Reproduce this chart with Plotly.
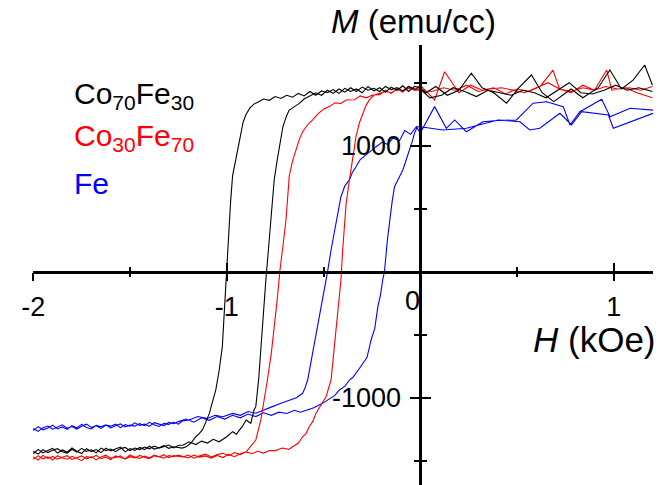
import plotly.graph_objects as go

# ---------------- data (H in kOe, M in emu/cc) ----------------
flat_H = [-2.000, -1.975, -1.950, -1.925, -1.900, -1.875, -1.850, -1.825, -1.800, -1.775,
          -1.750, -1.725, -1.700, -1.675, -1.650, -1.625, -1.600, -1.575, -1.550, -1.525,
          -1.500, -1.475, -1.450, -1.425, -1.400, -1.375, -1.350, -1.325, -1.300, -1.275, -1.250]

# Co70Fe30
co70_desc_pos_H = [1.20, 1.16, 1.10, 1.04, 0.98, 0.92, 0.84, 0.78, 0.69, 0.63, 0.575, 0.51, 0.446, 0.38,
                   0.32, 0.264, 0.20, 0.14, 0.08, 0.03, 0.0]
co70_desc_pos_M = [1480, 1640, 1520, 1450, 1600, 1460, 1380, 1450, 1350, 1420, 1561, 1460, 1337, 1420,
                   1460, 1575, 1440, 1400, 1470, 1420, 1460]
co70_desc_neg_H = [-0.03, -0.06, -0.09, -0.12, -0.15, -0.18, -0.21, -0.24, -0.27, -0.30, -0.33, -0.36,
                   -0.39, -0.42, -0.45, -0.48, -0.51, -0.54, -0.57, -0.60, -0.63, -0.66, -0.69, -0.72,
                   -0.75, -0.78, -0.81, -0.84, -0.86, -0.88, -0.90, -0.915, -0.93, -0.945, -0.96, -0.97,
                   -0.98, -0.99, -1.00, -1.01, -1.023, -1.04, -1.057, -1.075, -1.09, -1.11, -1.126,
                   -1.145, -1.16, -1.185, -1.21, -1.23]
co70_desc_neg_M = [1470, 1430, 1475, 1440, 1465, 1425, 1460, 1435, 1470, 1420, 1450, 1430, 1455, 1415,
                   1445, 1420, 1435, 1400, 1430, 1395, 1415, 1385, 1400, 1375, 1390, 1360, 1370, 1345,
                   1330, 1300, 1250, 1190, 1080, 950, 840, 760, 560, 300, 20, -250, -595, -790, -940,
                   -1040, -1125, -1200, -1256, -1290, -1310, -1360, -1390, -1400]
co70_desc_flat_M = [-1445, -1410, -1438, -1420, -1402, -1440, -1415, -1432, -1398, -1425, -1443, -1405,
                    -1428, -1412, -1436, -1400, -1422, -1410, -1392, -1430, -1404, -1418, -1395, -1412,
                    -1385, -1408, -1398, -1380, -1402, -1390, -1398]
co70_asc_flat_M = [-1425, -1448, -1412, -1436, -1418, -1405, -1430, -1440, -1410, -1432, -1402, -1426,
                   -1414, -1438, -1400, -1420, -1408, -1428, -1404, -1395, -1420, -1400, -1412, -1392,
                   -1406, -1384, -1400, -1390, -1376, -1398, -1380]
co70_asc_neg_H = [-1.225, -1.195, -1.16, -1.13, -1.10, -1.07, -1.04, -1.02, -1.00, -0.97, -0.95, -0.936,
                  -0.92, -0.90, -0.876, -0.859, -0.85, -0.835, -0.824, -0.81, -0.798, -0.785, -0.772,
                  -0.755, -0.74, -0.729, -0.71, -0.69, -0.677, -0.65, -0.625, -0.60, -0.574, -0.54,
                  -0.51, -0.48, -0.45, -0.42, -0.39, -0.36, -0.33, -0.30, -0.27, -0.24, -0.21, -0.18,
                  -0.15, -0.12, -0.09, -0.06, -0.03]
co70_asc_neg_M = [-1375, -1350, -1372, -1345, -1360, -1330, -1350, -1330, -1310, -1270, -1290, -1260,
                  -1230, -1177, -1203, -1098, -1071, -850, -595, -330, -66, 170, 410, 728, 880, 992,
                  1150, 1240, 1283, 1310, 1336, 1370, 1389, 1420, 1400, 1440, 1415, 1450, 1425, 1460,
                  1430, 1465, 1440, 1455, 1430, 1470, 1445, 1460, 1435, 1470, 1450]
co70_asc_pos_H = [0.0, 0.05, 0.11, 0.17, 0.23, 0.29, 0.35, 0.41, 0.47, 0.53, 0.59, 0.65, 0.71, 0.77,
                  0.83, 0.89, 0.95, 1.01, 1.07, 1.13, 1.20]
co70_asc_pos_M = [1450, 1380, 1400, 1460, 1430, 1390, 1440, 1420, 1400, 1440, 1420, 1380, 1440, 1500,
                  1420, 1410, 1440, 1480, 1440, 1460, 1430]

# Co30Fe70
co30_desc_pos_H = [1.20, 1.12, 1.06, 0.99, 0.964, 0.90, 0.84, 0.78, 0.72, 0.686, 0.62, 0.56, 0.50, 0.44,
                   0.38, 0.32, 0.26, 0.20, 0.126, 0.074, 0.0]
co30_desc_pos_M = [1380, 1420, 1460, 1440, 1600, 1440, 1480, 1420, 1450, 1600, 1470, 1430, 1450, 1410,
                   1460, 1440, 1480, 1420, 1587, 1363, 1480]
co30_desc_neg_H = [-0.03, -0.06, -0.09, -0.12, -0.15, -0.18, -0.21, -0.246, -0.28, -0.31, -0.34, -0.383,
                   -0.41, -0.44, -0.47, -0.50, -0.53, -0.556, -0.58, -0.608, -0.625, -0.642, -0.66,
                   -0.677, -0.694, -0.71, -0.725, -0.74, -0.755, -0.77, -0.79, -0.81, -0.824, -0.85,
                   -0.876, -0.90, -0.93, -0.96, -0.99, -1.02, -1.05, -1.08, -1.11, -1.14, -1.17, -1.20,
                   -1.23]
co30_desc_neg_M = [1440, 1470, 1425, 1450, 1415, 1440, 1405, 1402, 1380, 1395, 1365, 1363, 1335, 1340,
                   1310, 1290, 1250, 1204, 1170, 1111, 1050, 966, 880, 760, 410, 200, 13, -230, -463,
                   -650, -860, -1050, -1177, -1336, -1389, -1430, -1445, -1468, -1450, -1475, -1458,
                   -1480, -1462, -1472, -1455, -1478, -1465]
co30_desc_flat_M = [-1490, -1462, -1485, -1470, -1495, -1460, -1478, -1488, -1465, -1480, -1500, -1468,
                    -1476, -1458, -1484, -1470, -1492, -1462, -1475, -1486, -1455, -1472, -1482, -1464,
                    -1478, -1456, -1470, -1480, -1460, -1468, -1455]
co30_asc_flat_M = [-1470, -1495, -1458, -1482, -1466, -1488, -1472, -1460, -1490, -1476, -1462, -1485,
                   -1468, -1494, -1470, -1456, -1480, -1474, -1462, -1488, -1468, -1478, -1458, -1472,
                   -1484, -1462, -1470, -1452, -1476, -1460, -1466]
co30_asc_neg_H = [-1.225, -1.20, -1.17, -1.14, -1.11, -1.08, -1.05, -1.02, -0.99, -0.96, -0.93, -0.90,
                  -0.87, -0.84, -0.81, -0.78, -0.75, -0.712, -0.68, -0.66, -0.63, -0.608, -0.59, -0.574,
                  -0.556, -0.539, -0.51, -0.487, -0.461, -0.45, -0.435, -0.42, -0.41, -0.401, -0.383,
                  -0.366, -0.35, -0.332, -0.315, -0.297, -0.28, -0.263, -0.24, -0.211, -0.18, -0.15,
                  -0.12, -0.09, -0.06, -0.03]
co30_asc_neg_M = [-1470, -1455, -1480, -1462, -1448, -1470, -1452, -1441, -1460, -1435, -1452, -1430,
                  -1445, -1425, -1440, -1420, -1420, -1400, -1410, -1390, -1360, -1310, -1283, -1230,
                  -1190, -1124, -1050, -992, -860, -700, -463, -250, -66, 172, 542, 728, 900, 1071,
                  1180, 1257, 1320, 1363, 1400, 1416, 1430, 1420, 1445, 1430, 1455, 1440]
co30_asc_pos_H = [0.0, 0.06, 0.12, 0.18, 0.24, 0.30, 0.36, 0.42, 0.48, 0.54, 0.60, 0.66, 0.72, 0.78,
                  0.84, 0.90, 0.96, 1.02, 1.08, 1.14, 1.20]
co30_asc_pos_M = [1440, 1430, 1460, 1440, 1480, 1430, 1450, 1460, 1440, 1420, 1460, 1500, 1450, 1430,
                  1460, 1440, 1470, 1450, 1460, 1440, 1470]

# Fe
fe_desc_pos_H = [1.203, 1.085, 0.981, 0.938, 0.825, 0.774, 0.739, 0.653, 0.583, 0.497, 0.40, 0.324,
                 0.238, 0.178, 0.135, 0.074, 0.0]
fe_desc_pos_M = [1282, 1297, 1230, 1368, 1270, 1164, 1310, 1349, 1337, 1204, 1200, 1190, 1111, 1204,
                 1138, 1310, 1100]
fe_desc_neg_H = [-0.02, -0.05, -0.08, -0.107, -0.14, -0.17, -0.194, -0.23, -0.26, -0.28, -0.31, -0.332,
                 -0.35, -0.366, -0.39, -0.41, -0.427, -0.444, -0.461, -0.479, -0.487, -0.505, -0.522,
                 -0.535, -0.548, -0.565, -0.582, -0.595, -0.608, -0.64, -0.677, -0.72, -0.764, -0.81,
                 -0.85, -0.89, -0.93, -0.97, -1.02, -1.06, -1.10, -1.15, -1.195, -1.23]
fe_desc_neg_M = [1150, 1090, 1120, 1040, 1060, 1010, 1030, 990, 950, 930, 890, 833, 790, 728, 680, 595,
                 463, 305, 172, 0, -66, -230, -383, -480, -595, -730, -860, -920, -965, -1000, -1018,
                 -1045, -1071, -1100, -1124, -1110, -1140, -1125, -1151, -1140, -1165, -1150, -1177,
                 -1185]
fe_desc_flat_M = [-1262, -1230, -1255, -1240, -1218, -1248, -1232, -1252, -1222, -1240, -1212, -1236,
                  -1248, -1220, -1230, -1215, -1240, -1222, -1208, -1232, -1218, -1226, -1205, -1222,
                  -1196, -1215, -1228, -1204, -1212, -1195, -1210]
fe_asc_flat_M = [-1245, -1268, -1238, -1225, -1250, -1234, -1215, -1242, -1228, -1250, -1226, -1210,
                 -1236, -1222, -1244, -1218, -1226, -1210, -1238, -1214, -1226, -1200, -1220, -1210,
                 -1228, -1198, -1210, -1222, -1196, -1206, -1190]
fe_asc_neg_H = [-1.21, -1.17, -1.13, -1.09, -1.05, -1.01, -0.97, -0.93, -0.89, -0.85, -0.81, -0.77,
                -0.73, -0.69, -0.65, -0.62, -0.59, -0.55, -0.505, -0.47, -0.44, -0.418, -0.39, -0.366,
                -0.349, -0.32, -0.297, -0.275, -0.254, -0.235, -0.219, -0.205, -0.194, -0.185, -0.17,
                -0.159, -0.145, -0.133, -0.11, -0.09, -0.07, -0.055, -0.04, -0.03, -0.015]
fe_asc_neg_M = [-1170, -1195, -1160, -1180, -1150, -1170, -1140, -1160, -1130, -1150, -1120, -1140,
                -1115, -1125, -1100, -1115, -1098, -1080, -1045, -1010, -980, -939, -910, -860, -840,
                -780, -727, -680, -542, -450, -278, -180, -66, 0, 250, 410, 560, 675, 750, 807, 900,
                966, 1040, 1098, 1150]
fe_asc_pos_H = [0.0, 0.117, 0.238, 0.402, 0.515, 0.566, 0.618, 0.722, 0.782, 0.834, 0.972, 0.998, 1.203]
fe_asc_pos_M = [1150, 1125, 1138, 1204, 1190, 1125, 1138, 1257, 1164, 1270, 1244, 1138, 1257]

series_names = ["Co<sub>70</sub>Fe<sub>30</sub>", "Co<sub>30</sub>Fe<sub>70</sub>", "Fe"]
series_colors = ["#000000", "#ff0000", "#0000ff"]
x_tick_vals = [-2, -1, 1]
x_tick_text = ["-2", "-1", "1"]
y_tick_vals = [-1000, 1000]
y_tick_text = ["-1000", "1000"]


def loop(dpH, dpM, dnH, dnM, dfM, afM, anH, anM, apH, apM):
    H = dpH + dnH + flat_H[::-1] + flat_H + anH + apH
    M = dpM + dnM + dfM[::-1] + afM + anM + apM
    return H, M


loops = [
    loop(co70_desc_pos_H, co70_desc_pos_M, co70_desc_neg_H, co70_desc_neg_M, co70_desc_flat_M,
         co70_asc_flat_M, co70_asc_neg_H, co70_asc_neg_M, co70_asc_pos_H, co70_asc_pos_M),
    loop(co30_desc_pos_H, co30_desc_pos_M, co30_desc_neg_H, co30_desc_neg_M, co30_desc_flat_M,
         co30_asc_flat_M, co30_asc_neg_H, co30_asc_neg_M, co30_asc_pos_H, co30_asc_pos_M),
    loop(fe_desc_pos_H, fe_desc_pos_M, fe_desc_neg_H, fe_desc_neg_M, fe_desc_flat_M,
         fe_asc_flat_M, fe_asc_neg_H, fe_asc_neg_M, fe_asc_pos_H, fe_asc_pos_M),
]

# ---------------- figure ----------------
W, Hpx = 660, 485
x_range = [-2.0, 1.203]
y_range = [-1693, 1799]
x_dom = [33.3 / W, 653 / W]
y_dom = [0.0, 440 / Hpx]
xpos = y_dom[0] + (0 - y_range[0]) / (y_range[1] - y_range[0]) * (y_dom[1] - y_dom[0])
ypos = x_dom[0] + (0 - x_range[0]) / (x_range[1] - x_range[0]) * (x_dom[1] - x_dom[0])

FONT = "Liberation Sans, Arial, Helvetica, sans-serif"

fig = go.Figure()
# draw Fe first, then Co30Fe70, then Co70Fe30 on top
for i in [2, 1, 0]:
    H, M = loops[i]
    fig.add_trace(go.Scatter(x=H, y=M, mode="lines", line=dict(color=series_colors[i], width=1.1),
                             showlegend=False, hoverinfo="skip"))
fig.add_trace(go.Scatter(x=[None], y=[None], xaxis="x2", yaxis="y2", showlegend=False,
                         hoverinfo="skip"))

common_x = dict(domain=x_dom, range=x_range, anchor="free", position=xpos, showline=True,
                linecolor="black", linewidth=2.5, showgrid=False, zeroline=False, automargin=False,
                tickcolor="black", tickwidth=2, ticklen=8, tickvals=x_tick_vals)
common_y = dict(domain=y_dom, range=y_range, anchor="free", position=ypos, showline=True,
                linecolor="black", linewidth=2.5, showgrid=False, zeroline=False, automargin=False,
                tickcolor="black", tickwidth=2, ticklen=9, tickvals=y_tick_vals)

fig.update_layout(
    width=W, height=Hpx,
    margin=dict(l=0, r=0, t=0, b=0, autoexpand=False),
    paper_bgcolor="white", plot_bgcolor="white",
    font=dict(family=FONT, color="black"),
    xaxis=dict(**common_x, ticks="outside", ticktext=x_tick_text,
               tickfont=dict(size=27, family=FONT, color="black"), ticklabelstandoff=2,
               minor=dict(ticks="outside", ticklen=4, tickwidth=2, tickcolor="black",
                          tickvals=[-1.5, -0.5, 0.5])),
    yaxis=dict(**common_y, ticks="outside", ticktext=y_tick_text,
               tickfont=dict(size=27, family=FONT, color="black"), ticklabelstandoff=4,
               minor=dict(ticks="outside", ticklen=5, tickwidth=2, tickcolor="black",
                          tickvals=[-1500, -500, 500, 1500])),
    xaxis2=dict(**common_x, overlaying="x", ticks="inside", showticklabels=False,
                minor=dict(ticks="inside", ticklen=4, tickwidth=2, tickcolor="black",
                           tickvals=[-1.5, -0.5, 0.5])),
    yaxis2=dict(**common_y, overlaying="y", ticks="inside", showticklabels=False,
                minor=dict(ticks="inside", ticklen=5, tickwidth=2, tickcolor="black",
                           tickvals=[-1500, -500, 500, 1500])),
)

ann = []
ann.append(dict(x=0, y=0, xref="x", yref="y", text="0", showarrow=False, xanchor="right",
                yanchor="top", yshift=-12, xshift=2, font=dict(size=27, family=FONT, color="black")))
ann.append(dict(x=329 / W, y=(Hpx - 22) / Hpx, xref="paper", yref="paper",
                text="<i>M</i> (emu/cc)", showarrow=False, xanchor="left", yanchor="middle",
                font=dict(size=33, family=FONT, color="black")))
ann.append(dict(x=658 / W, y=(Hpx - 339) / Hpx, xref="paper", yref="paper",
                text="<i>H</i> (kOe)", showarrow=False, xanchor="right", yanchor="middle",
                font=dict(size=35, family=FONT, color="black")))
legend_y = [96, 137, 183]
for name, col, ly in zip(series_names, series_colors, legend_y):
    ann.append(dict(x=72 / W, y=(Hpx - ly) / Hpx, xref="paper", yref="paper", text=name,
                    showarrow=False, xanchor="left", yanchor="middle",
                    font=dict(size=30, family=FONT, color=col)))
fig.update_layout(annotations=ann)

fig.write_html("out.html", config={"displayModeBar": False},
               post_script="document.body.style.margin='0';document.body.style.padding='0';")
